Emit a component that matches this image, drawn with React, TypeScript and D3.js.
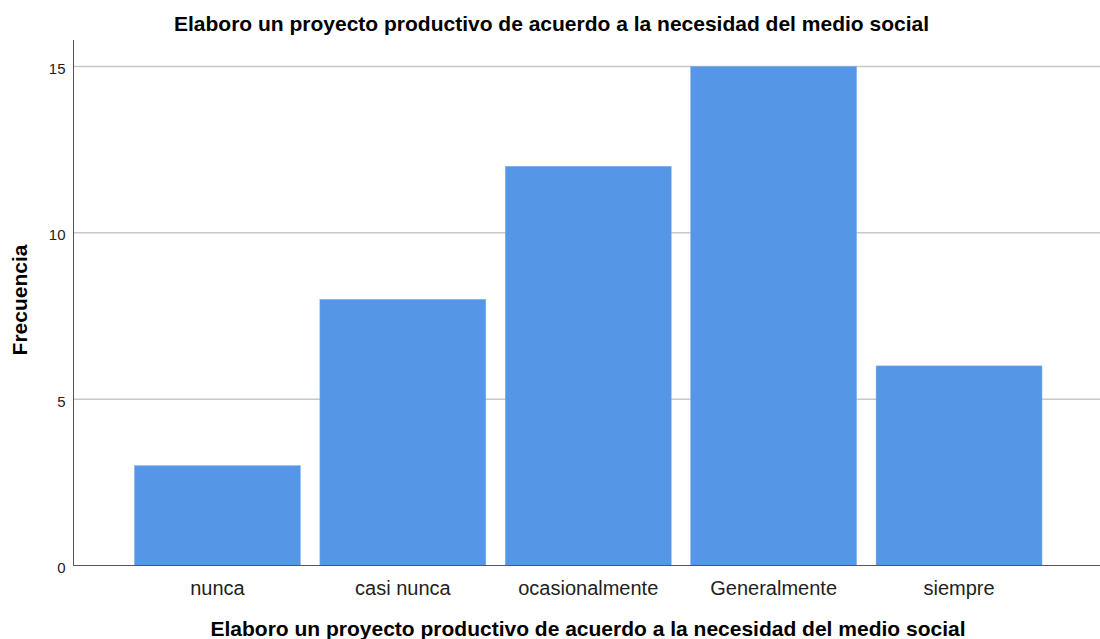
import React from "react";
import * as d3 from "d3";

const categories = ["nunca", "casi nunca", "ocasionalmente", "Generalmente", "siempre"];
const frequencies = [3, 8, 12, 15, 6];
const yTicks = [0, 5, 10, 15];
const chartTitle = "Elaboro un proyecto productivo de acuerdo a la necesidad del medio social";
const xTitle = "Elaboro un proyecto productivo de acuerdo a la necesidad del medio social";
const yTitle = "Frecuencia";

export default function App() {
  const W = 1100, H = 639;
  const axisX = 73.5;
  const y = d3.scaleLinear().domain([0, 15]).range([565.5, 66.5]);
  const x = d3.scaleBand<string>().domain(categories).range([134.5, 1042]).paddingInner(0.105).paddingOuter(0);
  const font = "'Liberation Sans', Arial, sans-serif";
  return (
    <svg width={W} height={H} style={{ position: "absolute", left: 0, top: 0, background: "#fff" }} fontFamily={font}>
      <rect x={0} y={0} width={W} height={H} fill="#fff" />
      <text x={551.5} y={31} textAnchor="middle" fontSize={21} fontWeight="bold" fill="#000">{chartTitle}</text>
      {yTicks.filter(t => t > 0).map(t => (
        <line key={"g" + t} x1={axisX} x2={W} y1={y(t)} y2={y(t)} stroke="#c8c8c8" strokeWidth={1.5} />
      ))}
      {categories.map((c, i) => (
        <rect key={c} x={x(c)} y={y(frequencies[i])} width={x.bandwidth()} height={y(0) - y(frequencies[i])} fill="#5596E6" stroke="#7aaeef" strokeWidth={0.5} />
      ))}
      <line x1={axisX} x2={axisX} y1={40} y2={y(0)} stroke="#555" strokeWidth={1} />
      <line x1={axisX} x2={W} y1={y(0)} y2={y(0)} stroke="#555" strokeWidth={1} />
      {yTicks.map(t => (
        <text key={"t" + t} x={65.5} y={y(t) + 7.5} textAnchor="end" fontSize={15} fill="#222">{t}</text>
      ))}
      {categories.map(c => (
        <text key={"l" + c} x={(x(c) as number) + x.bandwidth() / 2} y={595} textAnchor="middle" fontSize={20} fill="#222">{c}</text>
      ))}
      <text x={588} y={636} textAnchor="middle" fontSize={21} fontWeight="bold" fill="#000">{xTitle}</text>
      <text transform={`translate(27,300) rotate(-90)`} textAnchor="middle" fontSize={21} fontWeight="bold" fill="#000">{yTitle}</text>
    </svg>
  );
}
